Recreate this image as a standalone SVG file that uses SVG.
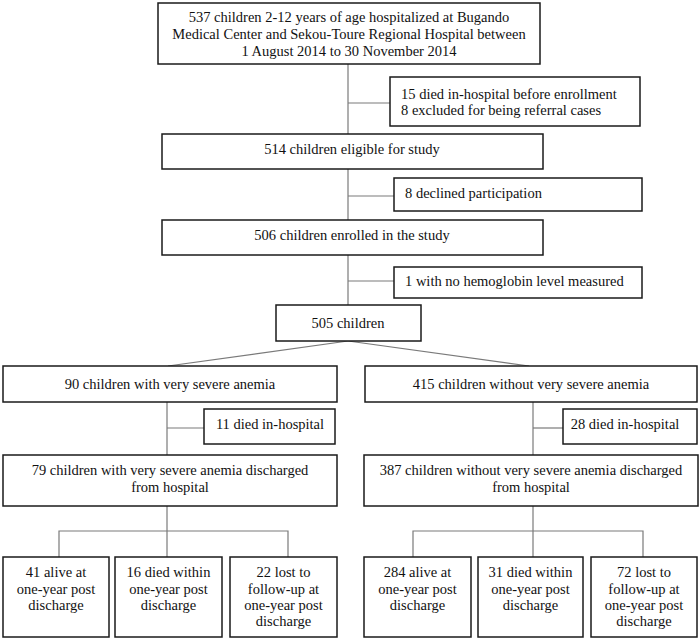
<svg xmlns="http://www.w3.org/2000/svg" width="700" height="640" viewBox="0 0 700 640">
<style>
.box{fill:#fff;stroke:#1a1a1a;stroke-width:1.5}
.c{fill:none;stroke:#7a7a7a;stroke-width:1.2}
text{font-family:"Liberation Serif","Times New Roman",serif;font-size:14.5px;fill:#111}
.m{text-anchor:middle}
</style>
<rect width="700" height="640" fill="#fff"/>
<g id="connectors">
<line class="c" x1="348" y1="64" x2="348" y2="134"/>
<line class="c" x1="348" y1="103" x2="390" y2="103"/>
<line class="c" x1="348" y1="169" x2="348" y2="220"/>
<line class="c" x1="348" y1="196" x2="394" y2="196"/>
<line class="c" x1="348" y1="255" x2="348" y2="305"/>
<line class="c" x1="348" y1="281" x2="394" y2="281"/>
<line class="c" x1="348" y1="341" x2="168" y2="366"/>
<line class="c" x1="348" y1="341" x2="529" y2="366"/>
<line class="c" x1="167" y1="402" x2="167" y2="455"/>
<line class="c" x1="167" y1="428" x2="204" y2="428"/>
<line class="c" x1="533" y1="402" x2="533" y2="455"/>
<line class="c" x1="533" y1="428" x2="563" y2="428"/>
<line class="c" x1="167" y1="506" x2="167" y2="557"/>
<polyline class="c" points="59,557 59,531 288,531 288,557"/>
<line class="c" x1="533" y1="506" x2="533" y2="557"/>
<polyline class="c" points="413,557 413,531 643,531 643,557"/>
</g>
<g id="n537">
<rect class="box" x="158" y="3" width="382" height="61"/>
<text class="m" x="349" y="22">537 children 2-12 years of age hospitalized at Bugando</text>
<text class="m" x="349" y="39">Medical Center and Sekou-Toure Regional Hospital between</text>
<text class="m" x="349" y="56">1 August 2014 to 30 November 2014</text>
</g>
<g id="excl1">
<rect class="box" x="390" y="77" width="250" height="49"/>
<text x="401" y="99">15 died in-hospital before enrollment</text>
<text x="401" y="115">8 excluded for being referral cases</text>
</g>
<g id="n514">
<rect class="box" x="162" y="134" width="381" height="35"/>
<text class="m" x="352" y="154">514 children eligible for study</text>
</g>
<g id="excl2">
<rect class="box" x="394" y="178" width="248" height="33"/>
<text x="405" y="198">8 declined participation</text>
</g>
<g id="n506">
<rect class="box" x="162" y="220" width="381" height="35"/>
<text class="m" x="352" y="240">506 children enrolled in the study</text>
</g>
<g id="excl3">
<rect class="box" x="394" y="267" width="248" height="31"/>
<text x="405" y="286">1 with no hemoglobin level measured</text>
</g>
<g id="n505">
<rect class="box" x="276" y="305" width="145" height="36"/>
<text class="m" x="348" y="328">505 children</text>
</g>
<g id="n90">
<rect class="box" x="3" y="366" width="334" height="36"/>
<text class="m" x="170" y="389">90 children with very severe anemia</text>
</g>
<g id="n415">
<rect class="box" x="365" y="366" width="332" height="36"/>
<text class="m" x="531" y="389">415 children without very severe anemia</text>
</g>
<g id="d11">
<rect class="box" x="204" y="409" width="131" height="35"/>
<text class="m" x="270" y="429">11 died in-hospital</text>
</g>
<g id="d28">
<rect class="box" x="563" y="409" width="134" height="35"/>
<text class="m" x="625" y="429">28 died in-hospital</text>
</g>
<g id="n79">
<rect class="box" x="3" y="455" width="334" height="51"/>
<text class="m" x="170" y="475">79 children with very severe anemia discharged</text>
<text class="m" x="170" y="492">from hospital</text>
</g>
<g id="n387">
<rect class="box" x="364" y="455" width="334" height="51"/>
<text class="m" x="531" y="475">387 children without very severe anemia discharged</text>
<text class="m" x="531" y="492">from hospital</text>
</g>
<g id="a41">
<rect class="box" x="3" y="557" width="106" height="80"/>
<text class="m" x="56" y="577">41 alive at</text>
<text class="m" x="56" y="594">one-year post</text>
<text class="m" x="56" y="610">discharge</text>
</g>
<g id="d16">
<rect class="box" x="115" y="557" width="107" height="80"/>
<text class="m" x="168.5" y="577">16 died within</text>
<text class="m" x="168.5" y="594">one-year post</text>
<text class="m" x="168.5" y="610">discharge</text>
</g>
<g id="l22">
<rect class="box" x="230" y="557" width="107" height="80"/>
<text class="m" x="283.5" y="577">22 lost to</text>
<text class="m" x="283.5" y="594">follow-up at</text>
<text class="m" x="283.5" y="610">one-year post</text>
<text class="m" x="283.5" y="626">discharge</text>
</g>
<g id="a284">
<rect class="box" x="364" y="557" width="107" height="80"/>
<text class="m" x="417.5" y="577">284 alive at</text>
<text class="m" x="417.5" y="594">one-year post</text>
<text class="m" x="417.5" y="610">discharge</text>
</g>
<g id="d31">
<rect class="box" x="478" y="557" width="105" height="80"/>
<text class="m" x="530.5" y="577">31 died within</text>
<text class="m" x="530.5" y="594">one-year post</text>
<text class="m" x="530.5" y="610">discharge</text>
</g>
<g id="l72">
<rect class="box" x="591" y="557" width="106" height="80"/>
<text class="m" x="644" y="577">72 lost to</text>
<text class="m" x="644" y="594">follow-up at</text>
<text class="m" x="644" y="610">one-year post</text>
<text class="m" x="644" y="626">discharge</text>
</g>
</svg>
